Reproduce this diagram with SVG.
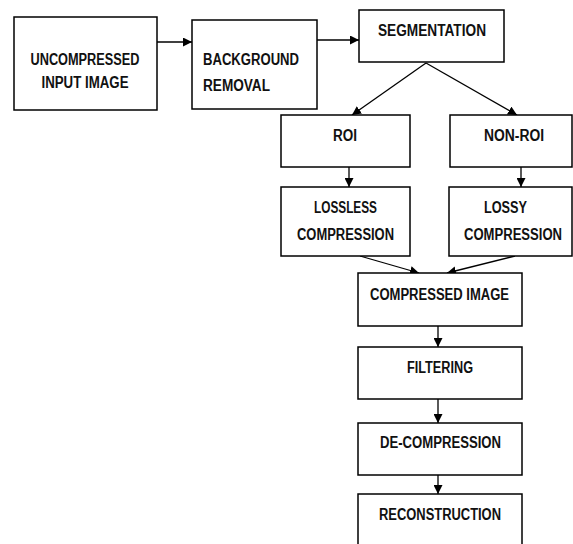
<svg xmlns="http://www.w3.org/2000/svg" width="573" height="544" viewBox="0 0 573 544">
<style>
.box{fill:#fff;stroke:#000;stroke-width:1.5}
.t{font-family:"Liberation Sans",Arial,sans-serif;font-weight:bold;font-size:16px;fill:#111}
.c{text-anchor:middle}
.ln{stroke:#000;stroke-width:1.3;fill:none;marker-end:url(#ah)}
</style>
<defs>
<marker id="ah" viewBox="0 0 10 10" refX="10" refY="5" markerWidth="9" markerHeight="9" markerUnits="userSpaceOnUse" orient="auto">
<path d="M0,0 L10,5 L0,10 z" fill="#000"/>
</marker>
</defs>
<rect width="573" height="544" fill="#fff"/>
<g id="connectors">
<line class="ln" x1="157" y1="42" x2="192" y2="42"/>
<line class="ln" x1="317" y1="40" x2="359" y2="40"/>
<line class="ln" x1="426" y1="63" x2="352" y2="115"/>
<line class="ln" x1="426" y1="63" x2="517" y2="115"/>
<line class="ln" x1="349" y1="167" x2="349" y2="187"/>
<line class="ln" x1="521" y1="167" x2="521" y2="187"/>
<line class="ln" x1="360" y1="256" x2="419" y2="273"/>
<line class="ln" x1="515" y1="256" x2="447" y2="273"/>
<line class="ln" x1="438" y1="326" x2="438" y2="347"/>
<line class="ln" x1="438" y1="399" x2="438" y2="423"/>
<line class="ln" x1="438" y1="475" x2="438" y2="494"/>
</g>
<g id="uncompressed">
<rect class="box" x="14" y="17" width="143" height="93"/>
<text class="t c" x="85" y="65" textLength="109" lengthAdjust="spacingAndGlyphs">UNCOMPRESSED</text>
<text class="t c" x="85" y="88" textLength="87" lengthAdjust="spacingAndGlyphs">INPUT IMAGE</text>
</g>
<g id="background">
<rect class="box" x="192" y="20" width="125" height="89"/>
<text class="t" x="203" y="65" textLength="96" lengthAdjust="spacingAndGlyphs">BACKGROUND</text>
<text class="t" x="203" y="91" textLength="67" lengthAdjust="spacingAndGlyphs">REMOVAL</text>
</g>
<g id="segmentation">
<rect class="box" x="359" y="10" width="145" height="52"/>
<text class="t c" x="432" y="36" textLength="108" lengthAdjust="spacingAndGlyphs">SEGMENTATION</text>
</g>
<g id="roi">
<rect class="box" x="281" y="115" width="129" height="52"/>
<text class="t c" x="345" y="141" textLength="24" lengthAdjust="spacingAndGlyphs">ROI</text>
</g>
<g id="nonroi">
<rect class="box" x="450" y="115" width="122" height="52"/>
<text class="t c" x="514" y="141" textLength="60" lengthAdjust="spacingAndGlyphs">NON-ROI</text>
</g>
<g id="lossless">
<rect class="box" x="281" y="187" width="129" height="69"/>
<text class="t c" x="345.5" y="213" textLength="63" lengthAdjust="spacingAndGlyphs">LOSSLESS</text>
<text class="t c" x="345.5" y="240" textLength="97" lengthAdjust="spacingAndGlyphs">COMPRESSION</text>
</g>
<g id="lossy">
<rect class="box" x="449" y="187" width="123" height="69"/>
<text class="t c" x="505.5" y="213" textLength="43" lengthAdjust="spacingAndGlyphs">LOSSY</text>
<text class="t c" x="513" y="240" textLength="98" lengthAdjust="spacingAndGlyphs">COMPRESSION</text>
</g>
<g id="compressed">
<rect class="box" x="358" y="273" width="164" height="53"/>
<text class="t c" x="439.5" y="300" textLength="139" lengthAdjust="spacingAndGlyphs">COMPRESSED IMAGE</text>
</g>
<g id="filtering">
<rect class="box" x="358" y="347" width="164" height="52"/>
<text class="t c" x="440" y="373" textLength="66" lengthAdjust="spacingAndGlyphs">FILTERING</text>
</g>
<g id="decompression">
<rect class="box" x="358" y="423" width="164" height="52"/>
<text class="t c" x="440.5" y="448" textLength="121" lengthAdjust="spacingAndGlyphs">DE-COMPRESSION</text>
</g>
<g id="reconstruction">
<rect class="box" x="358" y="494" width="164" height="60"/>
<text class="t c" x="440" y="520" textLength="122" lengthAdjust="spacingAndGlyphs">RECONSTRUCTION</text>
</g>
</svg>
